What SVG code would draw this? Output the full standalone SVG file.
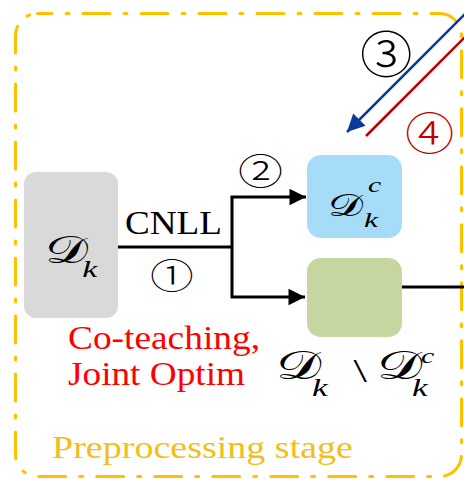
<svg xmlns="http://www.w3.org/2000/svg" width="464" height="480" viewBox="0 0 464 480">
<defs>
<style>
.serif{font-family:"Liberation Serif","Times New Roman",serif}
.cal{font-family:"DejaVu Serif","Liberation Serif",serif}
.it{font-family:"Liberation Serif","Times New Roman",serif;font-style:italic}
.circ{font-family:"Noto Sans CJK SC","DejaVu Sans",sans-serif;font-weight:300}
.conn{stroke:#000;stroke-width:3;fill:none}
</style>
<marker id="ah" viewBox="0 0 10 10" refX="10" refY="5" markerWidth="6.5" markerHeight="5.5" markerUnits="strokeWidth" orient="auto"><path d="M0,0 L10,5 L0,10 Z" fill="#000"/></marker>
<marker id="ahb" viewBox="0 0 10 10" refX="10" refY="5" markerWidth="8" markerHeight="7" markerUnits="strokeWidth" orient="auto"><path d="M0,0 L10,5 L0,10 Z" fill="#0B3A9C"/></marker>
</defs>
<rect width="464" height="480" fill="#fff"/>
<g id="stage">
<rect x="15.5" y="13.5" width="446" height="463" rx="22" fill="none" stroke="#FFC000" stroke-width="3" stroke-dasharray="27 14 3 14" stroke-dashoffset="12.5" stroke-linecap="round"/>
<text class="serif" x="52" y="458" font-size="32" fill="#F2BE1A" textLength="301" lengthAdjust="spacingAndGlyphs">Preprocessing stage</text>
</g>
<g id="connectors">
<line class="conn" x1="118" y1="247" x2="233" y2="247"/>
<polyline class="conn" points="232,197 232,297 305,297" marker-end="url(#ah)"/>
<line class="conn" x1="230.5" y1="197" x2="306" y2="197" marker-end="url(#ah)"/>
<line class="conn" x1="402" y1="287" x2="464" y2="287"/>
<line x1="472" y1="7" x2="347" y2="132" stroke="#0B3A9C" stroke-width="2.5" marker-end="url(#ahb)"/>
<line x1="472" y1="30" x2="366" y2="136" stroke="#C00000" stroke-width="2.5"/>
<text class="serif" x="125" y="234" font-size="34" textLength="97" lengthAdjust="spacingAndGlyphs">CNLL</text>
<text class="circ" font-size="35" transform="translate(150,289) scale(1.25,1)">①</text>
<text class="circ" font-size="36" transform="translate(238,185) scale(1.25,1)">②</text>
<text class="circ" font-size="50" transform="translate(360,73) scale(1.05,1)">③</text>
<text class="circ" font-size="44" fill="#C00000" transform="translate(405,150) scale(1.12,1)">④</text>
</g>
<g id="node-dk">
<rect x="24" y="172" width="94" height="146" rx="12" fill="#D9D9D9"/>
<text class="cal" font-size="38" transform="translate(45,263) scale(1.42,1)">𝒟<tspan class="it" x="26.2" y="14" font-size="24">k</tspan></text>
</g>
<g id="node-dkc">
<rect x="307" y="155" width="95" height="83" rx="14" fill="#A6DCF7"/>
<text class="cal" font-size="31" transform="translate(328,216) scale(1.42,1)">𝒟<tspan class="it" x="28.2" y="-24" font-size="21">c</tspan><tspan class="it" x="25.4" y="11" font-size="22">k</tspan></text>
</g>
<g id="node-rest">
<rect x="307" y="258" width="95" height="79" rx="14" fill="#C5D6A0"/>
</g>
<g id="label-rest">
<text class="cal" font-size="40" transform="translate(276,379) scale(1.42,1)">𝒟<tspan class="it" x="25.4" y="17" font-size="25">k</tspan><tspan class="serif" x="54.5" y="3" font-size="34">\</tspan><tspan x="71.1" y="0">𝒟</tspan><tspan class="it" x="102.1" y="-16" font-size="21">c</tspan><tspan class="it" x="95.8" y="17" font-size="25">k</tspan></text>
</g>
<g id="note">
<text class="serif" x="68" y="349" font-size="33" fill="#FF0000" textLength="192" lengthAdjust="spacingAndGlyphs">Co-teaching,</text>
<text class="serif" x="68" y="385" font-size="33" fill="#FF0000" textLength="177" lengthAdjust="spacingAndGlyphs">Joint Optim</text>
</g>
</svg>
